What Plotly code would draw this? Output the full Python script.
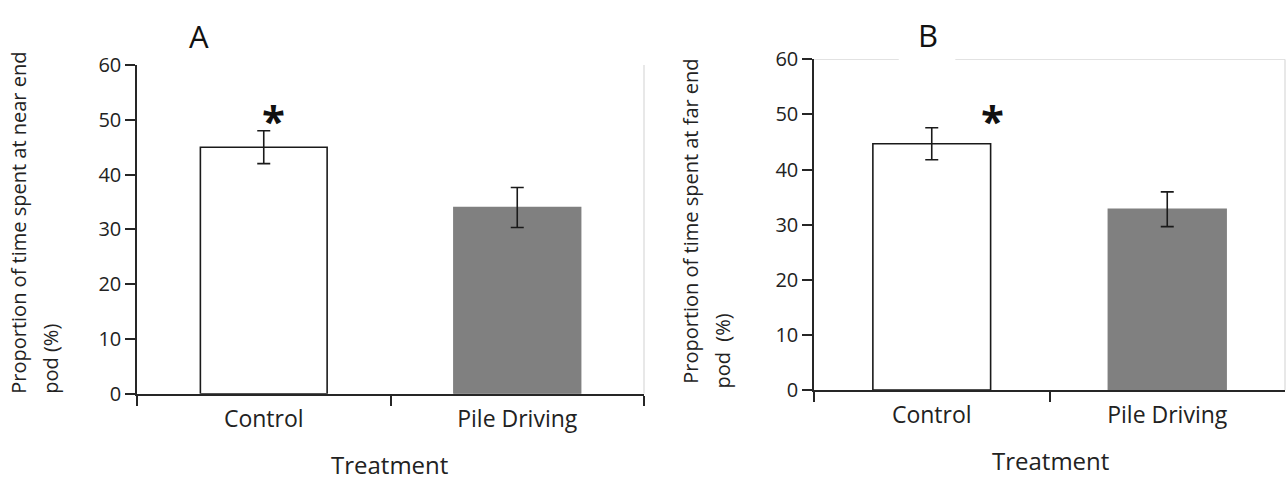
import plotly.graph_objects as go

categories = ["Control", "Pile Driving"]
near_values = [45.0, 34.0]
near_errors = [3.0, 3.65]
far_values = [44.7, 32.8]
far_errors = [2.9, 3.15]
y_ticks = [0, 10, 20, 30, 40, 50, 60]
bar_fills = ["#ffffff", "#808080"]
bar_lines = ["#1a1a1a", "#808080"]

FONT = "Open Sans"
AX = "#262626"
LIGHT = "#d9d9d9"

fig = go.Figure()
for vals, errs, xa, ya in [(near_values, near_errors, "x", "y"),
                           (far_values, far_errors, "x2", "y2")]:
    fig.add_trace(go.Bar(
        x=categories, y=vals, xaxis=xa, yaxis=ya,
        marker=dict(color=bar_fills, line=dict(color=bar_lines, width=1.6)),
        error_y=dict(type="data", array=errs, visible=True,
                     color="#1a1a1a", thickness=1.6, width=6.5),
        showlegend=False, hoverinfo="skip"))

W, H = 1286, 490
def px(x):
    return x / W
def py(y):
    return 1 - y / H

common_x = dict(type="category", showline=True, linecolor=AX, linewidth=1.5,
                ticks="outside", tickson="boundaries", ticklen=10, tickwidth=1.5,
                tickcolor=AX, showgrid=False, zeroline=False,
                tickfont=dict(family=FONT, size=23, color="#222"),
                ticklabelstandoff=4, range=[-0.5, 1.5])
common_y = dict(range=[0, 60], tickvals=y_ticks, showline=True, linecolor=AX,
                linewidth=1.5, ticks="outside", ticklen=10, tickwidth=1.5,
                tickcolor=AX, showgrid=False, zeroline=False,
                tickfont=dict(family=FONT, size=20, color="#222"))

fig.update_layout(
    width=W, height=H, margin=dict(l=0, r=0, t=0, b=0),
    paper_bgcolor="white", plot_bgcolor="white", bargap=0.5,
    xaxis=dict(domain=[px(137), px(644)], anchor="y", **common_x),
    yaxis=dict(domain=[py(402), py(54)], anchor="x", **common_y),
    xaxis2=dict(domain=[px(814), px(1285)], anchor="y2", **common_x),
    yaxis2=dict(domain=[py(398), py(48)], anchor="x2", **common_y),
)

# light frame lines
fig.add_shape(type="line", xref="x domain", yref="y", x0=1, x1=1, y0=0, y1=60,
              line=dict(color=LIGHT, width=1.2))
fig.add_shape(type="line", xref="x2 domain", yref="y2", x0=1, x1=1, y0=0, y1=60,
              line=dict(color=LIGHT, width=1.2))
fig.add_shape(type="line", xref="x2 domain", yref="y2", x0=0, x1=0.18, y0=60, y1=60,
              line=dict(color=LIGHT, width=1.2))
fig.add_shape(type="line", xref="x2 domain", yref="y2", x0=0.30, x1=1, y0=60, y1=60,
              line=dict(color=LIGHT, width=1.2))

ann = []
# panel letters
ann.append(dict(text="A", x=px(199), y=py(23), xref="paper", yref="paper",
                xanchor="center", yanchor="middle",
                showarrow=False, font=dict(family=FONT, size=31, color="#111")))
ann.append(dict(text="B", x=px(928), y=py(22), xref="paper", yref="paper",
                xanchor="center", yanchor="middle",
                showarrow=False, font=dict(family=FONT, size=31, color="#111")))
# asterisks
ann.append(dict(text="<b>*</b>", x=0.04, y=50.0, xref="x", yref="y", showarrow=False,
                xanchor="center", yanchor="middle",
                font=dict(family=FONT, size=42, color="#111")))
ann.append(dict(text="<b>*</b>", x=0.26, y=49.0, xref="x2", yref="y2", showarrow=False,
                xanchor="center", yanchor="middle",
                font=dict(family=FONT, size=42, color="#111")))
# x titles
ann.append(dict(text="Treatment", x=px(390), y=py(477), xref="paper", yref="paper",
                xanchor="center", yanchor="middle",
                showarrow=False, font=dict(family=FONT, size=24, color="#222")))
ann.append(dict(text="Treatment", x=px(1050), y=py(473), xref="paper", yref="paper",
                xanchor="center", yanchor="middle",
                showarrow=False, font=dict(family=FONT, size=24, color="#222")))
# y titles (two lines each)
for txt, xc, yb in [("Proportion of time spent at near end", 19, 404),
                    ("pod (%)", 51, 404),
                    ("Proportion of time spent at far end", 691, 394),
                    ("pod  (%)", 723, 398)]:
    ann.append(dict(text=txt, x=px(xc), y=py(yb), xref="paper", yref="paper",
                    textangle=-90, xanchor="center", yanchor="bottom", showarrow=False,
                    font=dict(family=FONT, size=20, color="#222")))
fig.update_layout(annotations=ann)

fig.write_html("out.html")
